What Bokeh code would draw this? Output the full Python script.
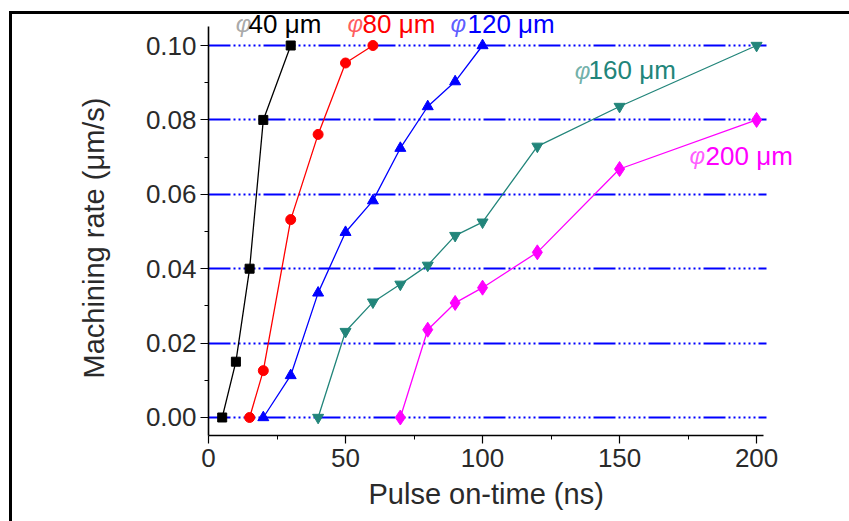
from bokeh.plotting import figure
from bokeh.models import (ColumnDataSource, Range1d, FixedTicker, PrintfTickFormatter,
                          Label, InlineStyleSheet, Title)
from bokeh.embed import file_html
from bokeh.resources import INLINE

# ---- data ----
x40 = [5, 10, 15, 20, 30]
y40 = [0.0, 0.015, 0.040, 0.080, 0.100]

x80 = [15, 20, 30, 40, 50, 60]
y80 = [0.0, 0.0126, 0.0532, 0.0761, 0.0953, 0.100]

x120 = [20, 30, 40, 50, 60, 70, 80, 90, 100]
y120 = [0.0, 0.0113, 0.0335, 0.0498, 0.0583, 0.0724, 0.0836, 0.0903, 0.100]

x160 = [40, 50, 60, 70, 80, 90, 100, 120, 150, 200]
y160 = [0.0, 0.0231, 0.0310, 0.0358, 0.0409, 0.0489, 0.0525, 0.0729, 0.0836, 0.100]

x200 = [70, 80, 90, 100, 120, 150, 200]
y200 = [0.0, 0.0236, 0.0308, 0.0349, 0.0444, 0.0668, 0.080]

series_names = ["40 \u03bcm", "80 \u03bcm", "120 \u03bcm", "160 \u03bcm", "200 \u03bcm"]
x_ticks = [0, 50, 100, 150, 200]
y_ticks = [0.00, 0.02, 0.04, 0.06, 0.08, 0.10]
x_title = "Pulse on-time (ns)"
y_title = "Machining rate (\u03bcm/s)"

FONT = "Liberation Sans"
X_AXIS_END = 202.5
Y_AXIS_START, Y_AXIS_END = -0.00484, 0.1051

p = figure(width=849, height=521, output_backend="svg", toolbar_location=None,
           x_range=Range1d(0, 233.9), y_range=Range1d(Y_AXIS_START, 0.1121),
           min_border_left=208, min_border_right=0, min_border_top=0, min_border_bottom=86)
p.background_fill_color = "white"
p.border_fill_color = "white"
p.outline_line_color = None

# grid
p.xgrid.grid_line_color = None
p.ygrid.ticker = FixedTicker(ticks=y_ticks)
p.ygrid.grid_line_color = "#0000ff"
p.ygrid.grid_line_width = 1.8
p.ygrid.grid_line_dash = "22 3 2 3 2 3 2 3 2 3 2 3 2 3"
p.ygrid.cross_bounds = (0, X_AXIS_END + 1)

# axes
for ax in (p.xaxis[0], p.yaxis[0]):
    ax.axis_line_color = "black"
    ax.axis_line_width = 1.6
    ax.major_tick_line_color = "black"
    ax.minor_tick_line_color = "black"
    ax.major_tick_line_width = 1.2
    ax.minor_tick_line_width = 1.0
    ax.major_tick_in = 0
    ax.major_tick_out = 8
    ax.minor_tick_in = 0
    ax.minor_tick_out = 4
    ax.major_label_text_font = FONT
    ax.major_label_text_font_size = "26px"
    ax.major_label_text_color = "#2a2a2a"

p.xaxis.bounds = (0, X_AXIS_END)
p.yaxis.bounds = (Y_AXIS_START, Y_AXIS_END)
p.xaxis.ticker = FixedTicker(ticks=x_ticks, minor_ticks=[25, 75, 125, 175])
p.yaxis.ticker = FixedTicker(ticks=y_ticks, minor_ticks=[0.01, 0.03, 0.05, 0.07, 0.09])
p.yaxis.formatter = PrintfTickFormatter(format="%.2f")
p.xaxis.major_label_standoff = 5
p.yaxis.major_label_standoff = 4

# axis titles (placed as side titles so they can be aligned on the axis span)
p.add_layout(Title(text=x_title, align="left", offset=160, vertical_align="top",
                   standoff=16, text_font=FONT, text_font_size="29px",
                   text_font_style="normal", text_color="#2a2a2a"), "below")
p.add_layout(Title(text=y_title, align="left", offset=57, vertical_align="bottom",
                   standoff=66, text_font=FONT, text_font_size="29px",
                   text_font_style="normal", text_color="#2a2a2a"), "left")

# series
specs = [
    (x40, y40, "black", "square", 9),
    (x80, y80, "#ff0000", "circle", 10),
    (x120, y120, "#0000ff", "triangle", 11),
    (x160, y160, "#22857a", "inverted_triangle", 11),
    (x200, y200, "#ff00ff", "diamond", 15),
]
for xs, ys, col, mk, sz in specs:
    src = ColumnDataSource(dict(x=xs, y=ys))
    p.line("x", "y", source=src, line_color=col, line_width=1.3)
    p.scatter("x", "y", source=src, marker=mk, size=sz, fill_color=col, line_color=col)

# series labels (phi symbol + size text)
label_pos = [  # (phi_x, text_x, y) in data units
    (9.9, 14.6, 0.1059),
    (50.7, 56.2, 0.1059),
    (88.3, 94.5, 0.1059),
    (133.6, 138.7, 0.0933),
    (175.5, 181.4, 0.0704),
]
for (px, tx, ty), name, (_, _, col, _, _) in zip(label_pos, series_names, specs):
    phi_col = "#777777" if col == "black" else col
    p.add_layout(Label(x=px, y=ty, text="\u03c6", text_font=FONT, text_font_size="24px",
                       text_font_style="italic", text_color=phi_col, text_alpha=0.65,
                       text_baseline="alphabetic"))
    p.add_layout(Label(x=tx, y=ty, text=name, text_font=FONT, text_font_size="26px",
                       text_color=col, text_baseline="alphabetic"))

# outer frame of the figure panel (top and left edges visible in the window)
p.stylesheets = [InlineStyleSheet(css="""
:host { position: relative; }
:host::after {
  content: ""; position: absolute; left: 9px; top: 11px;
  width: calc(100% - 9px); height: calc(100% - 11px);
  border-left: 3px solid black; border-top: 3px solid black;
  box-sizing: border-box; pointer-events: none; z-index: 100;
}
""")]

open("out.html", "w").write(file_html(p, INLINE))
